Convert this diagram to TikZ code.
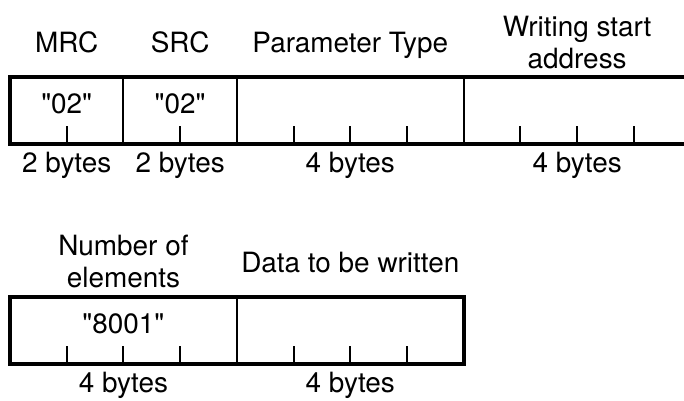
\documentclass[tikz,border=0pt]{standalone}
\usepackage{fontspec}
\setmainfont{TeX Gyre Heros}[Ligatures=TeXOff]
\usetikzlibrary{positioning,calc}

\begin{document}
\begin{tikzpicture}[
    font=\fontsize{14}{16}\selectfont,
    field/.style={rectangle, draw, line width=1pt, minimum width=#1cm, minimum height=1.17cm, inner sep=0pt, outer sep=0pt},
    framebox/.style={line width=2pt},
    bytetick/.style={line width=1pt},
    fieldname/.style={anchor=base},
    twoline/.style={align=center},
  ]
  \useasboundingbox (0,0) rectangle (12.06,-7.055);
  \clip (0,0) rectangle (12.06,-7.055);

  % first frame
  \node[field=2, anchor=north west] (mrc) at (0.176,-1.363) {};
  \node[field=2, right=0pt of mrc] (src) {};
  \node[field=4, right=0pt of src] (ptype) {};
  \node[field=4, right=0pt of ptype] (waddr) {};

  % second frame
  \node[field=4, anchor=north west] (nelem) at (0.176,-5.24) {};
  \node[field=4, right=0pt of nelem] (wdata) {};

  % byte ticks
  \foreach \f/\n in {mrc/1, src/1, ptype/3, waddr/3, nelem/3, wdata/3}
    \foreach \k in {1,...,\n}
      \draw[bytetick] ($(\f.south west)+(\k,0)$) -- ++(0,0.305);

  \draw[framebox] (12.06,0 |- mrc.north) -- (mrc.north west) -- (mrc.south west) -- (12.06,0 |- mrc.south);
  \draw[framebox] (nelem.north west) rectangle (wdata.south east);

  % field names
  \node[fieldname] (mrcname) at ([yshift=0.44cm]mrc.north) {MRC};
  \node[fieldname] (srcname) at ([yshift=0.44cm]src.north) {SRC};
  \node[fieldname] (ptypename) at ([yshift=0.44cm]ptype.north) {Parameter Type};
  \node[twoline] (waddrname) at ([yshift=0.61cm]waddr.north) {Writing start\\address};
  \node[twoline] (nelemname) at ([yshift=0.63cm]nelem.north) {Number of\\elements};
  \node[fieldname] (wdataname) at ([yshift=0.44cm]wdata.north) {Data to be written};

  % values
  \node[anchor=base] (mrcval) at ([yshift=-0.635cm]mrc.north) {"02"};
  \node[anchor=base] (srcval) at ([yshift=-0.635cm]src.north) {"02"};
  \node[anchor=base] (nelemval) at ([yshift=-0.635cm]nelem.north) {"8001"};

  % sizes
  \node[anchor=base] (mrcsize) at ([yshift=-0.51cm]mrc.south) {2 bytes};
  \node[anchor=base] (srcsize) at ([yshift=-0.51cm]src.south) {2 bytes};
  \node[anchor=base] (ptypesize) at ([yshift=-0.51cm]ptype.south) {4 bytes};
  \node[anchor=base] (waddrsize) at ([yshift=-0.51cm]waddr.south) {4 bytes};
  \node[anchor=base] (nelemsize) at ([yshift=-0.51cm]nelem.south) {4 bytes};
  \node[anchor=base] (wdatasize) at ([yshift=-0.51cm]wdata.south) {4 bytes};
\end{tikzpicture}
\end{document}
